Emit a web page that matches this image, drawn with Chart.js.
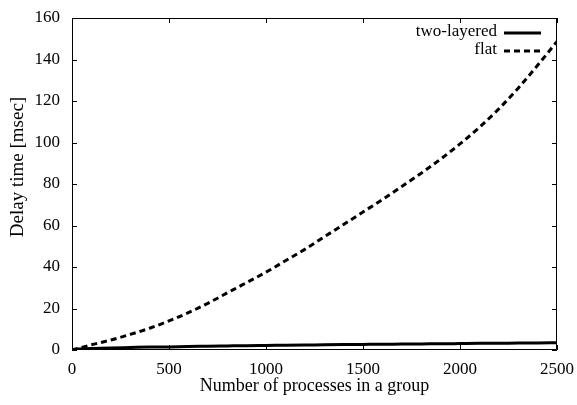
<!DOCTYPE html>
<html>
<head>
<meta charset="utf-8">
<script src="https://cdn.jsdelivr.net/npm/chart.js@4.4.0/dist/chart.umd.min.js"></script>
<style>
html,body{margin:0;padding:0;background:#fff;}
#wrap{width:577px;height:405px;position:relative;}
</style>
</head>
<body>
<div id="wrap"><canvas id="c" width="577" height="405"></canvas></div>
<script>
const processes = [0,100,200,300,400,500,600,700,800,900,1000,1100,1200,1300,1400,1500,1600,1700,1800,1900,2000,2100,2200,2300,2400,2500];
const flatDelay = [0,2.5,4.8,7.5,10.5,14,18,22.5,27.5,32.5,37.5,43,48.5,54.5,60.5,66.5,72.5,78.8,85.2,92,99.3,107.3,116.2,126.2,137.2,148.7];
const twoLayeredDelay = [0.3,0.7,1.0,1.2,1.4,1.5,1.7,1.8,1.95,2.1,2.2,2.3,2.4,2.5,2.6,2.7,2.8,2.85,2.95,3.0,3.1,3.2,3.25,3.35,3.4,3.5];
const xTicks = [0,500,1000,1500,2000,2500];
const yTicks = [0,20,40,60,80,100,120,140,160];
const seriesNames = ['two-layered','flat'];
const xTitle = 'Number of processes in a group';
const yTitle = 'Delay time [msec]';

const FONT = '"Liberation Serif", "DejaVu Serif", serif';

const innerTicks = {
  id:'innerTicks',
  afterDraw(chart){
    const {ctx, chartArea:a, scales:{x,y}} = chart;
    ctx.save();
    ctx.strokeStyle='#000';
    ctx.lineWidth=1;
    ctx.beginPath();
    ctx.rect(a.left+0.5,a.top+0.5,a.right-a.left-1,a.bottom-a.top-1);
    ctx.stroke();
    ctx.beginPath();
    xTicks.forEach(v=>{
      const px=Math.round(x.getPixelForValue(v))+0.5;
      ctx.moveTo(px,a.bottom);ctx.lineTo(px,a.bottom-5);
      ctx.moveTo(px,a.top);ctx.lineTo(px,a.top+5);
    });
    yTicks.forEach(v=>{
      const py=Math.round(y.getPixelForValue(v))+0.5;
      ctx.moveTo(a.left,py);ctx.lineTo(a.left+5,py);
      ctx.moveTo(a.right,py);ctx.lineTo(a.right-5,py);
    });
    ctx.stroke();
    // y title
    ctx.save();
    ctx.translate(18,167);
    ctx.rotate(-Math.PI/2);
    ctx.font='19px '+FONT;
    ctx.fillStyle='#000';
    ctx.textAlign='center';
    ctx.textBaseline='middle';
    ctx.fillText(yTitle,0,0);
    ctx.restore();
    // legend
    ctx.font='17px '+FONT;
    ctx.fillStyle='#000';
    ctx.textAlign='right';
    ctx.textBaseline='middle';
    const rows=[32,50];
    chart.data.datasets.forEach((ds,i)=>{
      const ry=rows[i];
      ctx.fillText(ds.label,497,ry);
      ctx.beginPath();
      ctx.lineWidth=ds.borderWidth;
      ctx.setLineDash(ds.borderDash||[]);
      ctx.moveTo(504,ry+1);ctx.lineTo(541,ry+1);
      ctx.stroke();
    });
    ctx.restore();
  }
};

new Chart(document.getElementById('c'),{
  type:'line',
  data:{
    datasets:[
      {label:seriesNames[0],data:processes.map((p,i)=>({x:p,y:twoLayeredDelay[i]})),borderColor:'#000',borderWidth:3,pointRadius:0,cubicInterpolationMode:'monotone',fill:false},
      {label:seriesNames[1],data:processes.map((p,i)=>({x:p,y:flatDelay[i]})),borderColor:'#000',borderWidth:3,borderDash:[6,4],pointRadius:0,cubicInterpolationMode:'monotone',fill:false}
    ]
  },
  options:{
    responsive:false,
    animation:false,
    layout:{padding:{top:18,right:20,left:0,bottom:0}},
    plugins:{legend:{display:false},tooltip:{enabled:false}},
    scales:{
      x:{
        type:'linear',min:0,max:2500,
        afterBuildTicks(s){s.ticks=xTicks.map(v=>({value:v}));},
        afterFit(s){s.height=55;},
        grid:{display:false},
        border:{display:false},
        ticks:{color:'#000',font:{family:FONT,size:17},padding:1,maxRotation:0,callback:v=>String(v)},
        title:{display:true,text:xTitle,color:'#000',font:{family:FONT,size:18},padding:{top:0,bottom:8}}
      },
      y:{
        type:'linear',min:0,max:160,
        afterBuildTicks(s){s.ticks=yTicks.map(v=>({value:v}));},
        afterFit(s){s.width=72;},
        grid:{display:false},
        border:{display:false},
        ticks:{color:'#000',font:{family:FONT,size:17},padding:4,callback:v=>String(v)},
        title:{display:false}
      }
    }
  },
  plugins:[innerTicks]
});
</script>
</body>
</html>
